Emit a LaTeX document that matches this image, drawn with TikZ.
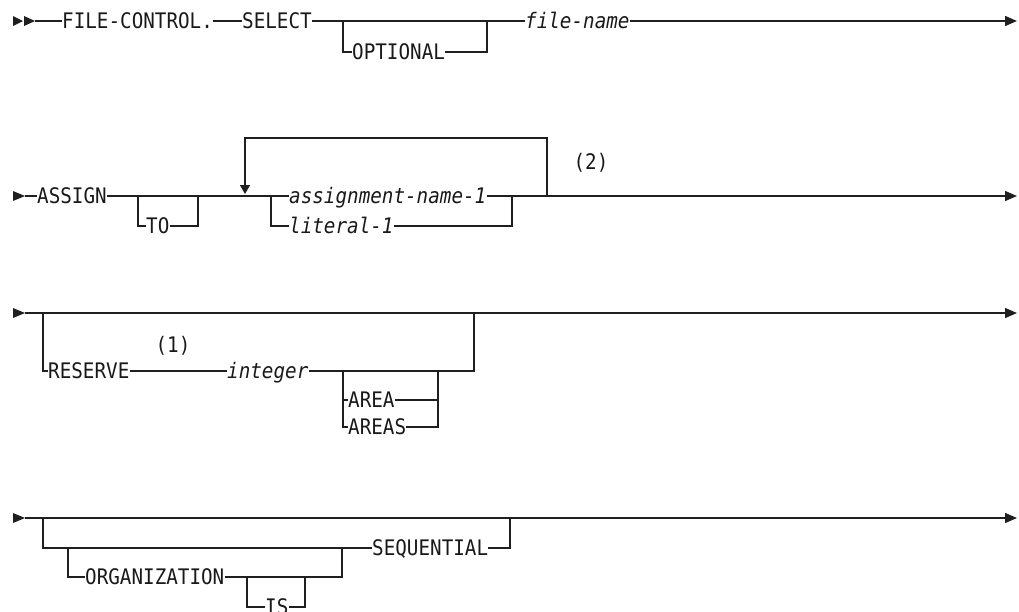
\documentclass[tikz,border=0pt]{standalone}
\usepackage{fontspec}
\setmainfont[FakeStretch=0.9]{DejaVu Sans Mono}
\usetikzlibrary{arrows.meta}
\tikzset{
  rail/.style={line width=1.4pt, draw=black!88},
  kw/.style={anchor=west, inner sep=0pt, text height=15.6pt, text depth=0pt,
    text=black!90, font=\fontsize{21.4}{25}\selectfont},
  var/.style={kw, font=\fontsize{21.4}{25}\selectfont\itshape},
  note/.style={anchor=center, inner sep=0pt, text height=15.6pt, text depth=0pt,
    text=black!90, font=\fontsize{21.4}{25}\selectfont},
  endarrow/.style={-{Triangle[length=12pt,width=10pt]}},
  looparrow/.style={-{Triangle[length=9pt,width=10pt]}},
  startmark/.style={fill=black!88, draw=none}
}
\begin{document}
\begin{tikzpicture}[x=1pt,y=-1pt]
\useasboundingbox (0,0) rectangle (1019,611);

% ---------------- Row 1 ----------------
\fill[startmark] (13,16) -- (23,21) -- (13,26) -- cycle;
\fill[startmark] (24,16) -- (35,21) -- (24,26) -- cycle;
\coordinate (s1) at (35,21);
\node[kw] (fc) at (62,21) {FILE-CONTROL.};
\node[kw] (sel) at (242,21) {SELECT};
\node[kw] (opt) at (352,52) {OPTIONAL};
\node[var] (fn) at (525,21) {file-name};
\coordinate (o1) at (343,21);
\coordinate (o2) at (487,21);
\coordinate (e1) at (1017,21);
\draw[rail] (s1) -- (fc.west);
\draw[rail] (fc.east) -- (sel.west);
\draw[rail] (sel.east) -- (fn.west);
\draw[rail,endarrow] (fn.east) -- (e1);
\draw[rail] (o1) |- (opt.west);
\draw[rail] (opt.east) -| (o2);

% ---------------- Row 2 ----------------
\fill[startmark] (13,191) -- (25,196) -- (13,201) -- cycle;
\coordinate (s2) at (25,196);
\node[kw] (asn) at (37,196) {ASSIGN};
\node[kw] (to) at (146,226) {TO};
\node[var] (an) at (289,196) {assignment-name-1};
\node[var] (lit) at (289,226) {literal-1};
\node[note] (n2) at (591,162) {(2)};
\coordinate (t1) at (138,196);
\coordinate (t2) at (198,196);
\coordinate (c1) at (271,196);
\coordinate (c2) at (512,196);
\coordinate (lr) at (547,196);
\coordinate (lt) at (245,138);
\coordinate (la) at (245,194);
\coordinate (e2) at (1017,196);
\draw[rail] (s2) -- (asn.west);
\draw[rail] (asn.east) -- (an.west);
\draw[rail,endarrow] (an.east) -- (e2);
\draw[rail] (t1) |- (to.west);
\draw[rail] (to.east) -| (t2);
\draw[rail] (c1) |- (lit.west);
\draw[rail] (lit.east) -| (c2);
\draw[rail,looparrow] (lr) |- (lt) -- (la);

% ---------------- Row 3 ----------------
\fill[startmark] (13,308) -- (25,313) -- (13,318) -- cycle;
\coordinate (s3) at (25,313);
\coordinate (e3) at (1017,313);
\coordinate (r1) at (43,313);
\coordinate (r2) at (474,313);
\node[kw] (res) at (48,371) {RESERVE};
\node[note] (n1) at (173,345) {(1)};
\node[var] (int) at (227,371) {integer};
\node[kw] (area) at (348,400) {AREA};
\node[kw] (areas) at (348,427) {AREAS};
\coordinate (a1) at (343,371);
\coordinate (a2) at (438,371);
\draw[rail,endarrow] (s3) -- (e3);
\draw[rail] (r1) |- (res.west);
\draw[rail] (res.east) -- (int.west);
\draw[rail] (int.east) -| (r2);
\draw[rail] (a1) |- (area.west);
\draw[rail] (a1) |- (areas.west);
\draw[rail] (area.east) -| (a2);
\draw[rail] (areas.east) -| (a2);

% ---------------- Row 4 ----------------
\fill[startmark] (13,513) -- (25,518) -- (13,523) -- cycle;
\coordinate (s4) at (25,518);
\coordinate (e4) at (1017,518);
\coordinate (q1) at (43,518);
\coordinate (q2) at (510,518);
\node[kw] (seq) at (372,548) {SEQUENTIAL};
\node[kw] (org) at (85,577) {ORGANIZATION};
\node[kw] (is) at (265,607) {IS};
\coordinate (g1) at (68,548);
\coordinate (g2) at (342,548);
\coordinate (i1) at (247,577);
\coordinate (i2) at (305,577);
\draw[rail,endarrow] (s4) -- (e4);
\draw[rail] (q1) |- (seq.west);
\draw[rail] (seq.east) -| (q2);
\draw[rail] (g1) |- (org.west);
\draw[rail] (org.east) -| (g2);
\draw[rail] (i1) |- (is.west);
\draw[rail] (is.east) -| (i2);
\end{tikzpicture}
\end{document}
